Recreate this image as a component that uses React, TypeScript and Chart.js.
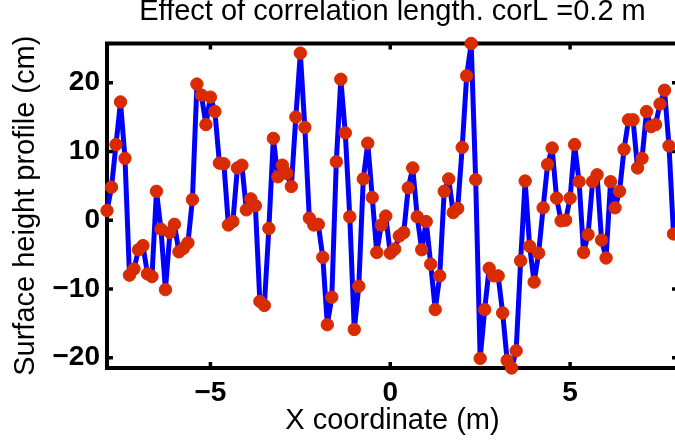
import React, { useEffect, useRef } from 'react';
import { Chart, registerables } from 'chart.js';

Chart.register(...registerables);

const TITLE = 'Effect of correlation length. corL =0.2 m';
const X_LABEL = 'X coordinate (m)';
const Y_LABEL = 'Surface height profile (cm)';

// regular grid of the profile
const X_START = -7.875;
const X_STEP = 0.125;
const X_MIN = -7.875;
const X_MAX = 8;

const X_TICKS = [-5, 0, 5];
const Y_TICKS = [-20, -10, 0, 10, 20];

const HEIGHTS = [
  1.4, 4.8, 11.0, 17.2, 9.0, -8.0, -7.1, -4.3, -3.7, -7.8,
  -8.2, 4.2, -1.3, -10.1, -1.8, -0.6, -4.6, -4.1, -3.3, 3.0,
  19.8, 18.2, 13.9, 17.9, 15.8, 8.3, 8.2, -0.7, -0.2, 7.6,
  8.0, 1.5, 3.1, 2.1, -11.8, -12.4, -1.2, 11.9, 6.3, 8.0,
  6.8, 4.9, 15.0, 24.3, 13.5, 0.3, -0.7, -0.6, -5.4, -15.2,
  -11.2, 8.5, 20.5, 12.7, 0.5, -15.9, -9.6, 6.0, 11.2, 3.3,
  -4.7, -0.7, 0.6, -4.8, -4.2, -2.3, -1.8, 4.7, 7.6, 0.5,
  -4.3, -0.2, -6.4, -13.0, -8.1, 4.2, 6.0, 1.1, 1.7, 10.6,
  21.0, 25.7, 5.9, -20.1, -13.0, -7.0, -8.1, -8.1, -13.5, -20.4,
  -21.5, -19.0, -5.9, 5.7, -3.8, -9.0, -4.8, 1.8, 8.1, 10.5,
  3.2, -0.1, 0.0, 3.2, 11.0, 5.6, -4.7, -2.1, 5.6, 6.6,
  -2.9, -5.5, 5.6, 1.8, 4.2, 10.3, 14.6, 14.6, 7.6, 9.0,
  15.8, 13.6, 13.9, 16.9, 18.9, 10.8, -2.0,
];

const FONT = "'Liberation Sans', Arial, Helvetica, sans-serif";
const LINE_COLOR = '#0000ff';
const MARKER_COLOR = '#d92b00';

const fmt = (v: number) => (v < 0 ? '\u2212' + Math.abs(v) : String(v));

const boxPlugin = {
  id: 'matlabBox',
  beforeDatasetsDraw(chart: any) {
    const { ctx, chartArea: a, scales } = chart;
    const xs = scales.x;
    const ys = scales.y;
    ctx.save();
    ctx.strokeStyle = '#000';
    ctx.lineWidth = 4;
    ctx.lineJoin = 'miter';
    ctx.strokeRect(a.left, a.top, a.right - a.left, a.bottom - a.top);
    const len = 6;
    ctx.lineWidth = 3.5;
    ctx.beginPath();
    X_TICKS.forEach((v) => {
      const px = xs.getPixelForValue(v);
      ctx.moveTo(px, a.bottom);
      ctx.lineTo(px, a.bottom - len);
      ctx.moveTo(px, a.top);
      ctx.lineTo(px, a.top + len);
    });
    Y_TICKS.forEach((v) => {
      const py = ys.getPixelForValue(v);
      ctx.moveTo(a.left, py);
      ctx.lineTo(a.left + len, py);
      ctx.moveTo(a.right, py);
      ctx.lineTo(a.right - len, py);
    });
    ctx.stroke();
    ctx.restore();
  },
};

export default function App() {
  const ref = useRef<HTMLCanvasElement | null>(null);

  useEffect(() => {
    if (!ref.current) return;
    const points = HEIGHTS.map((h, i) => ({ x: X_START + i * X_STEP, y: h }));
    const yMin = Math.min(...HEIGHTS);
    const yMax = Math.max(...HEIGHTS);
    const chart = new Chart(ref.current, {
      type: 'line',
      data: {
        datasets: [
          {
            data: points,
            borderColor: LINE_COLOR,
            borderWidth: 5,
            borderJoinStyle: 'round',
            borderCapStyle: 'round',
            pointRadius: 6.2,
            pointBackgroundColor: MARKER_COLOR,
            pointBorderColor: MARKER_COLOR,
            pointBorderWidth: 1,
            tension: 0,
            clip: false as any,
          },
        ],
      },
      options: {
        animation: false,
        responsive: false,
        devicePixelRatio: 1,
        events: [],
        layout: { padding: { left: 0, right: 22, top: 0, bottom: 0 } },
        plugins: {
          legend: { display: false },
          tooltip: { enabled: false },
          title: {
            display: true,
            text: TITLE,
            fullSize: false,
            color: '#000',
            font: { family: FONT, size: 29, weight: 'normal', lineHeight: 0.8 },
            padding: { top: 0.5, bottom: 19.8 },
          },
        },
        scales: {
          x: {
            type: 'linear',
            min: X_MIN,
            max: X_MAX,
            afterBuildTicks: (s: any) => {
              s.ticks = X_TICKS.map((v) => ({ value: v }));
            },
            afterFit: (s: any) => {
              s.height = 76;
            },
            grid: { display: false, drawTicks: false },
            border: { display: false },
            ticks: {
              color: '#000',
              padding: 8.8,
              maxRotation: 0,
              autoSkip: false,
              font: { family: FONT, size: 28, weight: 'bold' },
              callback: (v: any) => fmt(Number(v)),
            },
            title: {
              display: true,
              text: X_LABEL,
              color: '#000',
              font: { family: FONT, size: 29, weight: 'normal' },
              padding: { top: 0, bottom: 5.6 },
            },
          },
          y: {
            type: 'linear',
            min: yMin,
            max: yMax,
            afterBuildTicks: (s: any) => {
              s.ticks = Y_TICKS.map((v) => ({ value: v }));
            },
            afterFit: (s: any) => {
              s.width = 107;
            },
            grid: { display: false, drawTicks: false },
            border: { display: false },
            ticks: {
              color: '#000',
              padding: 7,
              autoSkip: false,
              font: { family: FONT, size: 28, weight: 'bold' },
              callback: (v: any) => fmt(Number(v)),
            },
            title: {
              display: true,
              text: Y_LABEL,
              color: '#000',
              font: { family: FONT, size: 29, weight: 'normal' },
              padding: { top: 8.6, bottom: 0 },
            },
          },
        },
      },
      plugins: [boxPlugin],
    });
    return () => chart.destroy();
  }, []);

  return (
    <div
      style={{
        position: 'fixed',
        left: 0,
        top: 0,
        width: 675,
        height: 444,
        overflow: 'hidden',
        background: '#fff',
      }}
    >
      <canvas ref={ref} width={700} height={444} style={{ width: 700, height: 444, display: 'block' }} />
    </div>
  );
}
